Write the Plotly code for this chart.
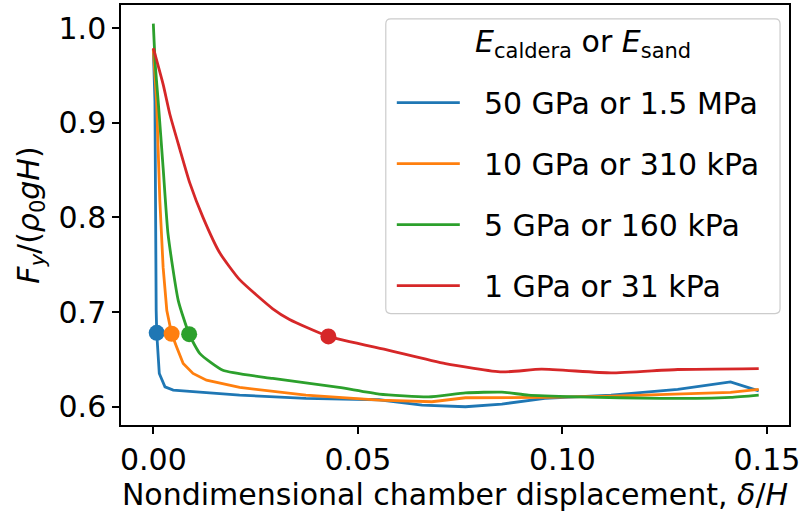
import plotly.graph_objects as go

# ---- data ----
names = ["50 GPa or 1.5 MPa", "10 GPa or 310 kPa", "5 GPa or 160 kPa", "1 GPa or 31 kPa"]
colors = ["#1f77b4", "#ff7f0e", "#2ca02c", "#d62728"]
legend_title = "<i>E</i><sub>caldera</sub> or <i>E</i><sub>sand</sub>"

blue_x = [0.0, 0.0004, 0.0007, 0.00083, 0.00146, 0.00285, 0.00487, 0.0211, 0.0373, 0.0552,
          0.0657, 0.0763, 0.0852, 0.0957, 0.1119, 0.1282, 0.1411, 0.148]
blue_y = [0.978, 0.9226, 0.7016, 0.678, 0.635, 0.6208, 0.6174, 0.6121, 0.6086, 0.6072,
          0.6016, 0.5998, 0.6026, 0.6086, 0.6121, 0.6181, 0.6261, 0.6166]

orange_x = [0.0, 0.0008, 0.0016, 0.0024, 0.0033, 0.00448, 0.0057, 0.0073, 0.0097, 0.013,
            0.0211, 0.0373, 0.0552, 0.0681, 0.0763, 0.0957, 0.1119, 0.1282, 0.1411, 0.148]
orange_y = [0.978, 0.9226, 0.8174, 0.7472, 0.7016, 0.677, 0.663, 0.6455, 0.635, 0.6279,
            0.6202, 0.6121, 0.6068, 0.6051, 0.6093, 0.6097, 0.611, 0.6132, 0.6149, 0.6181]

green_x = [0.0, 0.0005, 0.0012, 0.0024, 0.0036, 0.0061, 0.00876, 0.0114, 0.017, 0.0292,
           0.0454, 0.0552, 0.0673, 0.0763, 0.0852, 0.0917, 0.1038, 0.1241, 0.1411, 0.148]
green_y = [1.005, 0.96, 0.9226, 0.8524, 0.7823, 0.7121, 0.6766, 0.656, 0.6384, 0.6297,
           0.6202, 0.6132, 0.6103, 0.6145, 0.6153, 0.6121, 0.6103, 0.6086, 0.6097, 0.6121]

red_x = [0.0, 0.00243, 0.00406, 0.00649, 0.00893, 0.01217, 0.01623, 0.0211, 0.0292, 0.0333,
         0.0428, 0.0576, 0.0714, 0.0852, 0.0949, 0.1119, 0.1282, 0.148]
red_y = [0.979, 0.9402, 0.9089, 0.8721, 0.8363, 0.7998, 0.7626, 0.7342, 0.7034, 0.6921,
         0.6742, 0.6595, 0.6455, 0.6366, 0.6395, 0.6356, 0.6392, 0.6402]

marker_x = [0.00083, 0.00448, 0.00876, 0.0428]
marker_y = [0.678, 0.677, 0.6766, 0.6742]

xs = [blue_x, orange_x, green_x, red_x]
ys = [blue_y, orange_y, green_y, red_y]
shapes_line = ["linear", "linear", "spline", "spline"]

x_ticks = [0.0, 0.05, 0.10, 0.15]
x_ticklabels = ["0.00", "0.05", "0.10", "0.15"]
y_ticks = [0.6, 0.7, 0.8, 0.9, 1.0]
y_ticklabels = ["0.6", "0.7", "0.8", "0.9", "1.0"]

FONT = "DejaVu Sans"
FS = 30

fig = go.Figure()
for i in range(4):
    fig.add_trace(go.Scatter(
        x=xs[i], y=ys[i], mode="lines", name="\u00a0\u00a0" + names[i],
        line=dict(color=colors[i], width=2.8, shape=shapes_line[i], smoothing=0.5),
        legendgroup=f"g{i}",
    ))
for i in range(4):
    fig.add_trace(go.Scatter(
        x=[marker_x[i]], y=[marker_y[i]], mode="markers",
        marker=dict(color=colors[i], size=16),
        showlegend=False, legendgroup=f"g{i}",
    ))

# legend frame (rounded rectangle) in paper coordinates
x0, x1, y0, y1 = 0.3964, 0.9866, 0.2654, 0.9668
rx, ry = 0.0075, 0.0119
path = (f"M{x0+rx},{y0} L{x1-rx},{y0} Q{x1},{y0} {x1},{y0+ry} "
        f"L{x1},{y1-ry} Q{x1},{y1} {x1-rx},{y1} L{x0+rx},{y1} Q{x0},{y1} {x0},{y1-ry} "
        f"L{x0},{y0+ry} Q{x0},{y0} {x0+rx},{y0} Z")
fig.add_shape(type="path", path=path, xref="paper", yref="paper",
              line=dict(color="#cccccc", width=1.2), fillcolor="rgba(255,255,255,0.8)",
              layer="above")
fig.add_annotation(text=legend_title, xref="paper", yref="paper",
                   x=(x0 + x1) / 2, y=0.909, xanchor="center", yanchor="middle",
                   showarrow=False, font=dict(family=FONT, size=FS, color="black"))

fig.update_layout(
    width=803, height=513,
    margin=dict(l=121, r=11, t=3, b=88),
    paper_bgcolor="white", plot_bgcolor="white",
    font=dict(family=FONT, size=FS, color="black"),
    showlegend=True,
    legend=dict(
        x=0.4054, y=0.8294, xanchor="left", yanchor="top",
        bgcolor="rgba(0,0,0,0)", borderwidth=0,
        font=dict(family=FONT, size=FS, color="black"),
        tracegroupgap=19, itemwidth=63,
    ),
    xaxis=dict(
        range=[-0.0079, 0.1554], tickvals=x_ticks, ticktext=x_ticklabels,
        showgrid=False, zeroline=False, showline=True, mirror=True,
        linecolor="black", linewidth=1.5, ticks="outside", ticklen=7,
        tickwidth=1.5, tickcolor="black", ticklabeloverflow="allow",
        title=dict(text="Nondimensional chamber displacement, <i>δ</i>/<i>H</i>",
                   font=dict(family=FONT, size=FS), standoff=3),
    ),
    yaxis=dict(
        range=[0.5805, 1.0247], tickvals=y_ticks, ticktext=y_ticklabels,
        showgrid=False, zeroline=False, showline=True, mirror=True,
        linecolor="black", linewidth=1.5, ticks="outside", ticklen=7,
        tickwidth=1.5, tickcolor="black",
        title=dict(text="<i>F</i><sub><i>y</i></sub>/(<i>ρ</i><sub>0</sub><i>gH</i>)",
                   font=dict(family=FONT, size=FS), standoff=10),
    ),
)

fig.write_html("out.html")
